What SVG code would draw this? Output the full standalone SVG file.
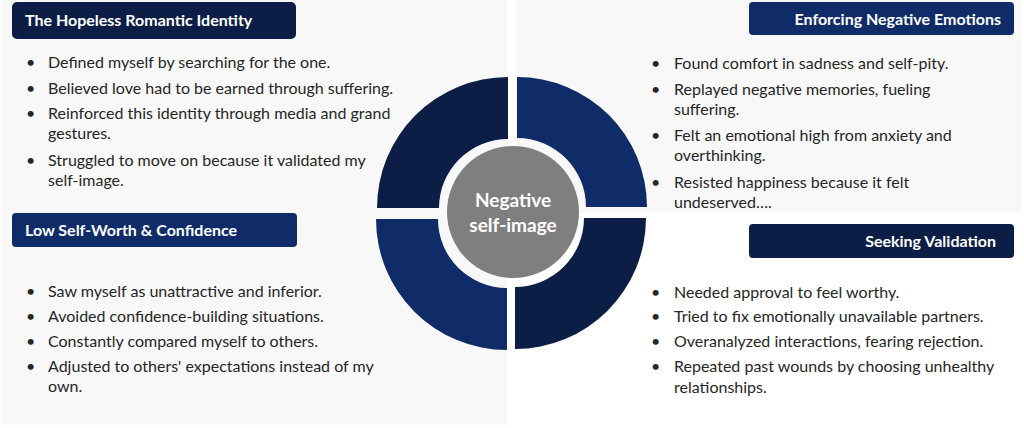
<svg xmlns="http://www.w3.org/2000/svg" width="1024" height="428" viewBox="0 0 1024 428">
<style>
.panel{fill:#f8f8f8}
.dark{fill:#0c1e45}
.blue{fill:#0f2c69}
.hd{font-family:Lato,"Liberation Sans",sans-serif;font-weight:bold;font-size:16px;fill:#ffffff}
.tx{font-family:Lato,"Liberation Sans",sans-serif;font-size:16px;fill:#262626}
.ct{font-family:Lato,"Liberation Sans",sans-serif;font-weight:bold;font-size:19px;fill:#ffffff}
</style>
<rect width="1024" height="428" fill="#ffffff"/>
<rect class="panel" x="2" y="0" width="505" height="425"/>
<rect class="panel" x="516" y="0" width="505" height="213"/>

<g id="center-ring">
<path class="dark" d="M508,208 L377,208 A131,131 0 0 1 508,77 L508,139 A69,69 0 0 0 439,208 Z"/>
<path class="blue" d="M517,207 L517,77 A130,130 0 0 1 647,207 L586,207 A69,69 0 0 0 517,138 Z"/>
<path class="blue" d="M507,219 L507,350 A131,131 0 0 1 376,219 L438,219 A69,69 0 0 0 507,288 Z"/>
<path class="dark" d="M515,218 L646,218 A131,131 0 0 1 515,349 L515,287 A69,69 0 0 0 584,218 Z"/>
<circle cx="513" cy="212" r="66" fill="#7f7f7f"/>
<text class="ct" x="513" y="207" text-anchor="middle">Negative</text>
<text class="ct" x="513" y="232" text-anchor="middle">self-image</text>
</g>

<g id="hopeless-romantic">
<rect class="dark" x="12" y="2" width="284" height="37" rx="5"/>
<text class="hd" x="25" y="26">The Hopeless Romantic Identity</text>
<text class="tx" x="26" y="68">•</text><text class="tx" x="48" y="68">Defined myself by searching for the one.</text>
<text class="tx" x="26" y="94">•</text><text class="tx" x="48" y="94">Believed love had to be earned through suffering.</text>
<text class="tx" x="26" y="119">•</text><text class="tx" x="48" y="119">Reinforced this identity through media and grand</text>
<text class="tx" x="48" y="139">gestures.</text>
<text class="tx" x="26" y="166">•</text><text class="tx" x="48" y="166">Struggled to move on because it validated my</text>
<text class="tx" x="48" y="186">self-image.</text>
</g>

<g id="low-self-worth">
<rect class="blue" x="12" y="213" width="285" height="34" rx="4"/>
<text class="hd" x="25" y="236">Low Self-Worth &amp; Confidence</text>
<text class="tx" x="26" y="297">•</text><text class="tx" x="48" y="297">Saw myself as unattractive and inferior.</text>
<text class="tx" x="26" y="322">•</text><text class="tx" x="48" y="322">Avoided confidence-building situations.</text>
<text class="tx" x="26" y="347">•</text><text class="tx" x="48" y="347">Constantly compared myself to others.</text>
<text class="tx" x="26" y="372">•</text><text class="tx" x="48" y="372">Adjusted to others' expectations instead of my</text>
<text class="tx" x="48" y="392">own.</text>
</g>

<g id="enforcing-negative">
<rect class="blue" x="749" y="2" width="265" height="33" rx="4"/>
<text class="hd" x="1001" y="25" text-anchor="end">Enforcing Negative Emotions</text>
<text class="tx" x="651" y="69">•</text><text class="tx" x="674" y="69">Found comfort in sadness and self-pity.</text>
<text class="tx" x="651" y="95">•</text><text class="tx" x="674" y="95">Replayed negative memories, fueling</text>
<text class="tx" x="674" y="115">suffering.</text>
<text class="tx" x="651" y="141">•</text><text class="tx" x="674" y="141">Felt an emotional high from anxiety and</text>
<text class="tx" x="674" y="161">overthinking.</text>
<text class="tx" x="651" y="188">•</text><text class="tx" x="674" y="188">Resisted happiness because it felt</text>
<text class="tx" x="674" y="208">undeserved….</text>
</g>

<g id="seeking-validation">
<rect class="dark" x="749" y="224" width="265" height="34" rx="4"/>
<text class="hd" x="996" y="247" text-anchor="end">Seeking Validation</text>
<text class="tx" x="651" y="298">•</text><text class="tx" x="674" y="298">Needed approval to feel worthy.</text>
<text class="tx" x="651" y="322">•</text><text class="tx" x="674" y="322">Tried to fix emotionally unavailable partners.</text>
<text class="tx" x="651" y="347">•</text><text class="tx" x="674" y="347">Overanalyzed interactions, fearing rejection.</text>
<text class="tx" x="651" y="372">•</text><text class="tx" x="674" y="372">Repeated past wounds by choosing unhealthy</text>
<text class="tx" x="674" y="393">relationships.</text>
</g>

<g id="connectors"></g>
</svg>
